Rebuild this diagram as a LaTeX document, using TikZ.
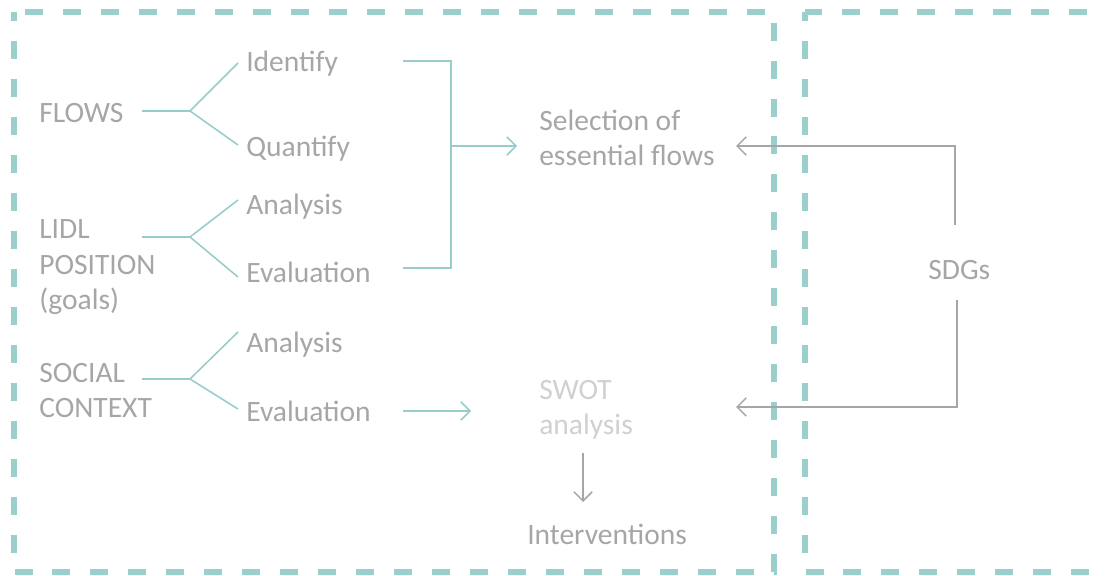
\documentclass[tikz,border=0pt]{standalone}
\usepackage{fontspec}
\setmainfont{Carlito}
\usetikzlibrary{arrows.meta}
\definecolor{framecol}{RGB}{155,207,203}
\definecolor{twigcol}{RGB}{150,205,202}
\definecolor{txtcol}{RGB}{166,166,166}
\definecolor{faintcol}{RGB}{208,208,208}
\tikzset{
	lbl/.style={anchor=base west, inner sep=0pt, align=left, text=txtcol, font=\fontsize{21}{25.3}\selectfont},
	frameline/.style={draw=framecol, line width=3.6pt, dash pattern=on 12.8pt off 14.2pt, dash phase=6.4pt},
	twig/.style={draw=twigcol, line width=1.1pt},
	greyline/.style={draw=txtcol, line width=1.1pt},
	barb/.style={-{Straight Barb[length=6.5pt,width=13pt]}}
}

\begin{document}
\begin{tikzpicture}[x=0.025cm, y=-0.025cm]
			\useasboundingbox (0,0) rectangle (1106,576);
			\clip (0,0) rectangle (1106,576);
			\draw[frameline] (14,12) rectangle (774,572);
			\draw[frameline] (805,12) rectangle (1160,572);
			\node[lbl] (flows) at (39,123) {FLOWS};
			\node[lbl] (identify) at (246,72) {Identify};
			\node[lbl] (quantify) at (246,157) {Quantify};
			\node[lbl] (lidl) at (39,310) {LIDL\\POSITION\\(goals)};
			\node[lbl] (analysisA) at (246,215) {Analysis};
			\node[lbl] (evaluationA) at (246,283) {Evaluation};
			\node[lbl] (social) at (39,418) {SOCIAL\\CONTEXT};
			\node[lbl] (analysisB) at (246,353) {Analysis};
			\node[lbl] (evaluationB) at (246,422) {Evaluation};
			\node[lbl] (selection) at (539,166) {Selection of\\essential flows};
			\node[lbl, text=faintcol] (swot) at (539,435) {SWOT\\analysis};
			\node[lbl] (interventions) at (527,545) {Interventions};
			\node[lbl] (sdgs) at (928,280) {SDGs};
			\coordinate (flowsS) at (142,111);
			\coordinate (flowsJ) at (190,111);
			\coordinate (identifyT) at (238,63);
			\coordinate (quantifyT) at (238,145);
			\coordinate (lidlS) at (142,237);
			\coordinate (lidlJ) at (190,237);
			\coordinate (analysisAT) at (238,200);
			\coordinate (evaluationAT) at (238,277);
			\coordinate (socialS) at (142,379);
			\coordinate (socialJ) at (190,379);
			\coordinate (analysisBT) at (238,332);
			\coordinate (evaluationBT) at (238,409);
			\coordinate (bracketT) at (403,61);
			\coordinate (bracketB) at (403,268);
			\coordinate (bracketM) at (451,146);
			\coordinate (selectionT) at (517,146);
			\coordinate (socialA) at (403,411);
			\coordinate (swotT) at (471,411);
			\coordinate (swotS) at (583,453);
			\coordinate (interventionsT) at (583,502);
			\coordinate (sdgsN) at (955,225);
			\coordinate (sdgsS) at (957,300);
			\coordinate (selectionE) at (736,146);
			\coordinate (swotE) at (736,407);
			\draw[twig] (flowsS) -- (flowsJ) -- (identifyT);
			\draw[twig] (flowsJ) -- (quantifyT);
			\draw[twig] (lidlS) -- (lidlJ) -- (analysisAT);
			\draw[twig] (lidlJ) -- (evaluationAT);
			\draw[twig] (socialS) -- (socialJ) -- (analysisBT);
			\draw[twig] (socialJ) -- (evaluationBT);
			\draw[twig] (bracketT) -| (bracketM) |- (bracketB);
			\draw[twig, barb] (bracketM) -- (selectionT);
			\draw[twig, barb] (socialA) -- (swotT);
			\draw[greyline, barb] (swotS) -- (interventionsT);
			\draw[greyline, barb] (sdgsN) |- (selectionE);
			\draw[greyline, barb] (sdgsS) |- (swotE);
		\end{tikzpicture}
\end{document}
